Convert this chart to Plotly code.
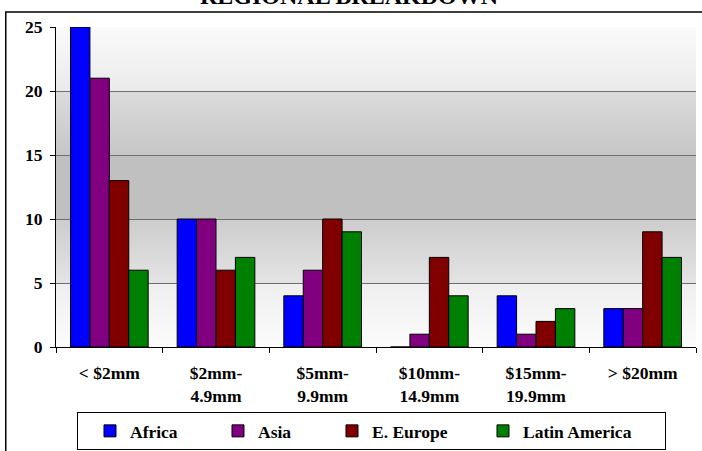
import base64
import struct
import zlib

import plotly.graph_objects as go

# Deal-size buckets and count of deals per region
categories = ["< $2mm", "$2mm-<br>4.9mm", "$5mm-<br>9.9mm", "$10mm-<br>14.9mm",
              "$15mm-<br>19.9mm", "> $20mm"]
africa = [25, 10, 4, 0, 4, 3]
asia = [21, 10, 6, 1, 1, 3]
e_europe = [13, 6, 10, 7, 2, 9]
latin_america = [6, 7, 9, 4, 3, 7]

series = [
    ("Africa", africa, "#0000ff", 71),
    ("Asia", asia, "#800080", 57),
    ("E. Europe", e_europe, "#800000", 94),
    ("Latin America", latin_america, "#008000", 137),
]

FONT = "Liberation Serif, Times New Roman, serif"


def gradient_png(rows=320):
    """Vertical grey gradient (banded per 5 units) encoded as a 1-px-wide PNG."""
    bands = [
        (0, 5, 252, 238),
        (5, 10, 228, 204),
        (10, 15, 192, 192),
        (15, 20, 198, 220),
        (20, 25, 234, 250),
    ]
    raw = b""
    for r in range(rows):
        v = 25 * (1 - (r + 0.5) / rows)
        g = 255
        for lo, hi, c_lo, c_hi in bands:
            if lo <= v <= hi:
                t = (v - lo) / (hi - lo)
                g = int(round(c_lo + (c_hi - c_lo) * t))
                break
        raw += b"\x00" + bytes([g])

    def chunk(tag, data):
        c = struct.pack(">I", len(data)) + tag + data
        return c + struct.pack(">I", zlib.crc32(tag + data) & 0xFFFFFFFF)

    png = b"\x89PNG\r\n\x1a\n"
    png += chunk(b"IHDR", struct.pack(">IIBBBBB", 1, rows, 8, 0, 0, 0, 0))
    png += chunk(b"IDAT", zlib.compress(raw))
    png += chunk(b"IEND", b"")
    return "data:image/png;base64," + base64.b64encode(png).decode()


fig = go.Figure()
for name, vals, color, lw in series:
    fig.add_trace(go.Bar(
        x=categories, y=vals, name=name,
        marker=dict(color=color, line=dict(color="#000000", width=1)),
        legendwidth=lw,
    ))

fig.update_layout(
    width=702, height=451,
    margin=dict(l=56, r=6, t=27, b=104),
    paper_bgcolor="#ffffff", plot_bgcolor="#ffffff",
    barmode="group", bargap=0.272, bargroupgap=0,
    font=dict(family=FONT, color="#000000"),
    images=[dict(
        source=gradient_png(), xref="x domain", yref="y domain",
        x=0, y=1, sizex=1, sizey=1, xanchor="left", yanchor="top",
        sizing="stretch", layer="below",
    )],
    shapes=[dict(
        type="rect", xref="paper", yref="paper",
        x0=-0.0785, x1=1.2, y0=-0.5, y1=1.047,
        line=dict(color="#000000", width=1.5), fillcolor="rgba(0,0,0,0)",
    )],
    showlegend=True,
    legend=dict(
        orientation="h", x=0.0328, xanchor="left",
        yref="container", y=0.0865, yanchor="top",
        bordercolor="#000000", borderwidth=1, bgcolor="#ffffff",
        font=dict(family=FONT, size=17.5, color="#000000", weight="bold"),
        itemwidth=30, indentation=12, traceorder="normal",
    ),
    annotations=[dict(
        text="<b>REGIONAL BREAKDOWN</b>", xref="paper", yref="paper",
        x=0.458, y=1.097, xanchor="center", yanchor="middle", showarrow=False,
        font=dict(family=FONT, size=24, color="#000000"),
    )],
)

fig.update_xaxes(
    showline=True, linecolor="#000000", linewidth=1,
    ticks="outside", tickson="boundaries", ticklen=5, tickcolor="#000000",
    ticklabelstandoff=10,
    tickfont=dict(family=FONT, size=17.5, color="#000000", weight="bold"),
    showgrid=False, automargin=False,
)
fig.update_yaxes(
    range=[0, 25], tickvals=[0, 5, 10, 15, 20, 25],
    showline=True, linecolor="#000000", linewidth=1,
    ticks="outside", ticklen=5, tickcolor="#000000",
    ticklabelstandoff=4,
    tickfont=dict(family=FONT, size=17.5, color="#000000", weight="bold"),
    showgrid=True, gridcolor="#6e6e6e", gridwidth=1, zeroline=False,
    automargin=False,
)

fig.write_html("out.html")
